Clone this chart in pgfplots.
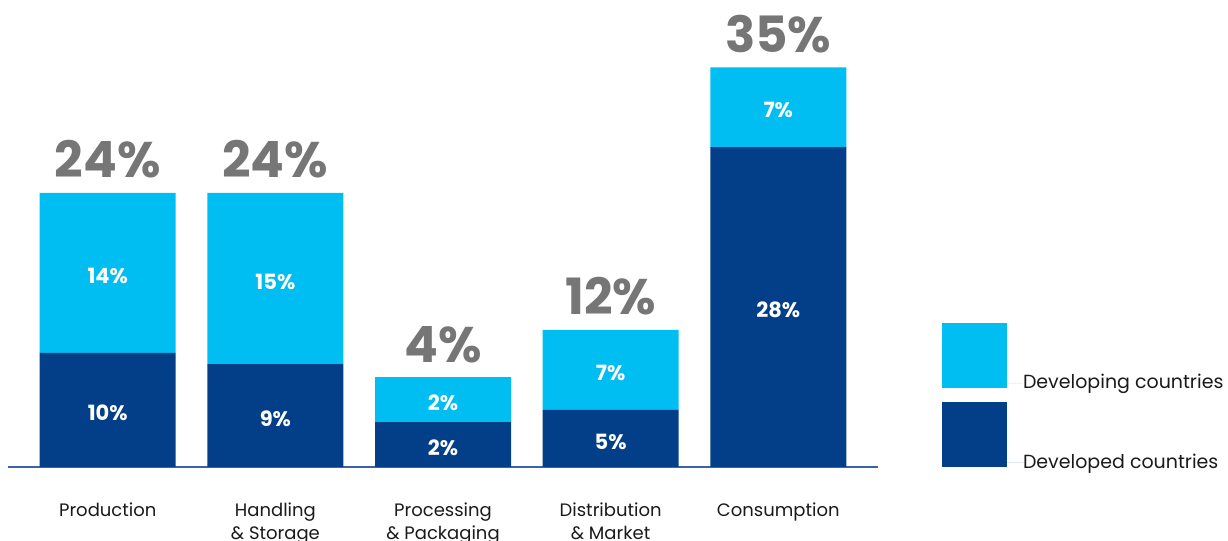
\documentclass[border=0pt]{standalone}
\usepackage{fontspec}
\setmainfont{Poppins}
\usepackage{pgfplots}
\pgfplotsset{compat=1.18}
\usepackage{pgfplotstable}

\definecolor{lightb}{HTML}{00BDF2}
\definecolor{darkb}{HTML}{033F88}
\definecolor{totgray}{HTML}{767676}
\definecolor{baseblue}{HTML}{3A64A8}
\definecolor{txt}{HTML}{1A1A1A}

% dev / dvg = drawn segment heights, devlab / dvglab = printed values,
% top = drawn bar top, totlab = printed total
\pgfplotstableread{
x dev devlab dvg dvglab top totlab
0 10.0 10 14.0 14 24.0 24
1 9.0 9 15.0 15 24.0 24
2 3.94 2 3.94 2 7.88 4
3 5.0 5 7.0 7 12.0 12
4 28.0 28 7.0 7 35.0 35
}\data

\begin{document}
\begin{tikzpicture}
\useasboundingbox (0,0) rectangle (614pt,270.5pt);
\pgfplotsset{common/.style={
  at={(4pt,37pt)}, anchor=south west,
  scale only axis, width=435pt, height=228.4pt,
  xmin=-0.595, xmax=4.595, ymin=0, ymax=40,
  clip=false}}
\begin{axis}[common,
  ybar stacked, bar width=68pt,
  axis y line=none,
  axis x line*=bottom,
  x axis line style={baseblue, line width=1pt},
  xtick={0,1,2,3,4},
  xticklabels={{\strut Production},{\strut Handling\\\& Storage},{\strut Processing\\\& Packaging},{\strut Distribution\\\& Market},{\strut Consumption}},
  xticklabel style={align=center, anchor=north, yshift=-13pt, text=txt, font=\fontsize{9}{11.5}\selectfont},
  major tick length=0pt,
  ytick=\empty,
  reverse legend,
  legend style={at={(1.07356,0.31524)}, anchor=north west, draw=none, fill=none,
    inner sep=0pt, outer sep=0pt, row sep=5.25pt, column sep=0pt,
    font=\fontsize{9.5}{11}\selectfont, text=txt,
    nodes={inner sep=0pt, outer sep=0pt}},
  legend cell align=left,
  legend image code/.code={\fill[#1] (0pt,-2.4pt) rectangle (32.5pt,30.1pt); \path (32.5pt,0pt) -- (40.5pt,0pt);},
]
\addplot[fill=darkb, draw=none,
  nodes near coords={\pgfplotspointmeta\%}, point meta=explicit symbolic,
  every node near coord/.style={anchor=center, yshift=-1.5pt, text=white, font=\bfseries\fontsize{10.5}{12}\selectfont}]
  table[x=x, y=dev, meta=devlab]{\data};
\addlegendentry{Developed countries}
\addplot[fill=lightb, draw=none,
  nodes near coords={\pgfplotspointmeta\%}, point meta=explicit symbolic,
  every node near coord/.style={anchor=center, yshift=-1.5pt, text=white, font=\bfseries\fontsize{10.5}{12}\selectfont}]
  table[x=x, y=dvg, meta=dvglab]{\data};
\addlegendentry{Developing countries}
\end{axis}
\begin{axis}[common, hide axis]
\addplot[only marks, mark=*, mark size=0pt, mark options={draw=none, fill=none},
  nodes near coords={\pgfplotspointmeta\%}, point meta=explicit symbolic,
  every node near coord/.style={anchor=base, yshift=7.5pt, text=totgray, font=\bfseries\fontsize{25}{28}\selectfont}]
  table[x=x, y=top, meta=totlab]{\data};
\end{axis}
\end{tikzpicture}
\end{document}
